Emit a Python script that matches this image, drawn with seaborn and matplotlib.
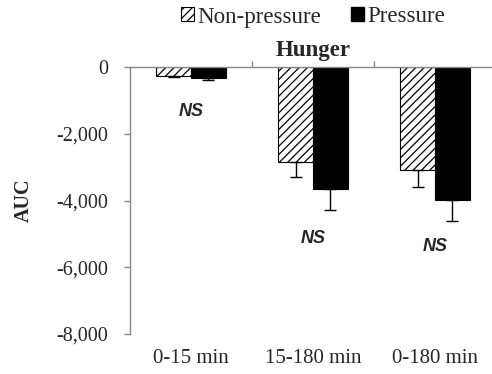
import matplotlib
matplotlib.use("Agg")
import matplotlib.pyplot as plt
import matplotlib.patches as mpatches
import seaborn as sns
import pandas as pd
import numpy as np

categories = ["0-15 min", "15-180 min", "0-180 min"]
groups = ["Non-pressure", "Pressure"]
nonpressure = [-270, -2850, -3100]
pressure = [-340, -3650, -3990]
nonpressure_err = [40, 450, 490]
pressure_err = [50, 620, 610]
ns_labels = ["NS", "NS", "NS"]
ns_y = [-1340, -5130, -5370]
yticks = [0, -2000, -4000, -6000, -8000]
ytick_labels = ["0", "-2,000", "-4,000", "-6,000", "-8,000"]

sns.set_style("white")
plt.rcParams["font.family"] = ["Liberation Serif", "DejaVu Serif"]
plt.rcParams["hatch.linewidth"] = 0.9

df = pd.DataFrame({
    "cat": categories * 2,
    "grp": [groups[0]] * 3 + [groups[1]] * 3,
    "val": nonpressure + pressure,
    "err": nonpressure_err + pressure_err,
})

fig = plt.figure(figsize=(4.92, 3.74), dpi=100)
W, H = 492, 374
ax = fig.add_axes([130 / W, 1 - 334 / H, 366 / W, (334 - 67) / H])

sns.barplot(data=df, x="cat", y="val", hue="grp", order=categories, hue_order=groups,
            palette={"Non-pressure": "white", "Pressure": "black"}, width=0.57,
            errorbar=None, edgecolor="black", linewidth=0.8, legend=False, ax=ax)

# hatch and errorbars
for container, errs, hatch in zip(ax.containers, [nonpressure_err, pressure_err], ["////", None]):
    xs, ys = [], []
    for bar in container:
        if hatch:
            bar.set_hatch(hatch)
        xs.append(bar.get_x() + bar.get_width() / 2)
        ys.append(bar.get_y() + bar.get_height())
    ax.errorbar(xs, ys, yerr=[errs, [0] * len(errs)], fmt="none", ecolor="black",
                elinewidth=1.0, capsize=4.5, capthick=1.0)

for i, (lab, y) in enumerate(zip(ns_labels, ns_y)):
    ax.text(i, y, lab, ha="center", va="center", fontsize=13, fontweight="bold",
            fontstyle="italic", family=["Liberation Sans", "DejaVu Sans"])

ax.set_xlim(-0.5, 2.5)
ax.set_ylim(-8000, 0)
ax.set_yticks(yticks)
ax.set_yticklabels(ytick_labels, fontsize=14.5)
ax.set_xticks(range(3))
ax.set_xticklabels(categories, fontsize=15)
ax.set_xticks([0.5, 1.5, 2.5], minor=True)
ax.tick_params(axis="x", which="major", length=0, pad=10.5, bottom=False)
ax.tick_params(axis="x", which="minor", top=True, bottom=False, direction="out",
               length=4, color="#888888", width=1)
ax.tick_params(axis="y", which="major", left=True, direction="out", length=4,
               color="#888888", width=1, pad=12)
ax.set_xlabel("")
ax.set_ylabel("AUC", fontsize=14.5, fontweight="bold", labelpad=16)
for s in ["bottom", "right"]:
    ax.spines[s].set_visible(False)
for s in ["left", "top"]:
    ax.spines[s].set_color("#888888")
    ax.spines[s].set_linewidth(1)
ax.set_title("Hunger", fontsize=16.5, fontweight="bold", pad=8)

handles = [mpatches.Patch(facecolor="white", edgecolor="black", hatch="////", linewidth=0.8),
           mpatches.Patch(facecolor="black", edgecolor="black")]
fig.legend(handles, groups, loc="center", bbox_to_anchor=(313 / W, 1 - 17 / H), ncol=2,
           frameon=False, fontsize=16.5, handlelength=0.55, handleheight=0.55,
           handletextpad=0.15, columnspacing=1.3, borderaxespad=0)

fig.savefig("out.png", dpi=100)
